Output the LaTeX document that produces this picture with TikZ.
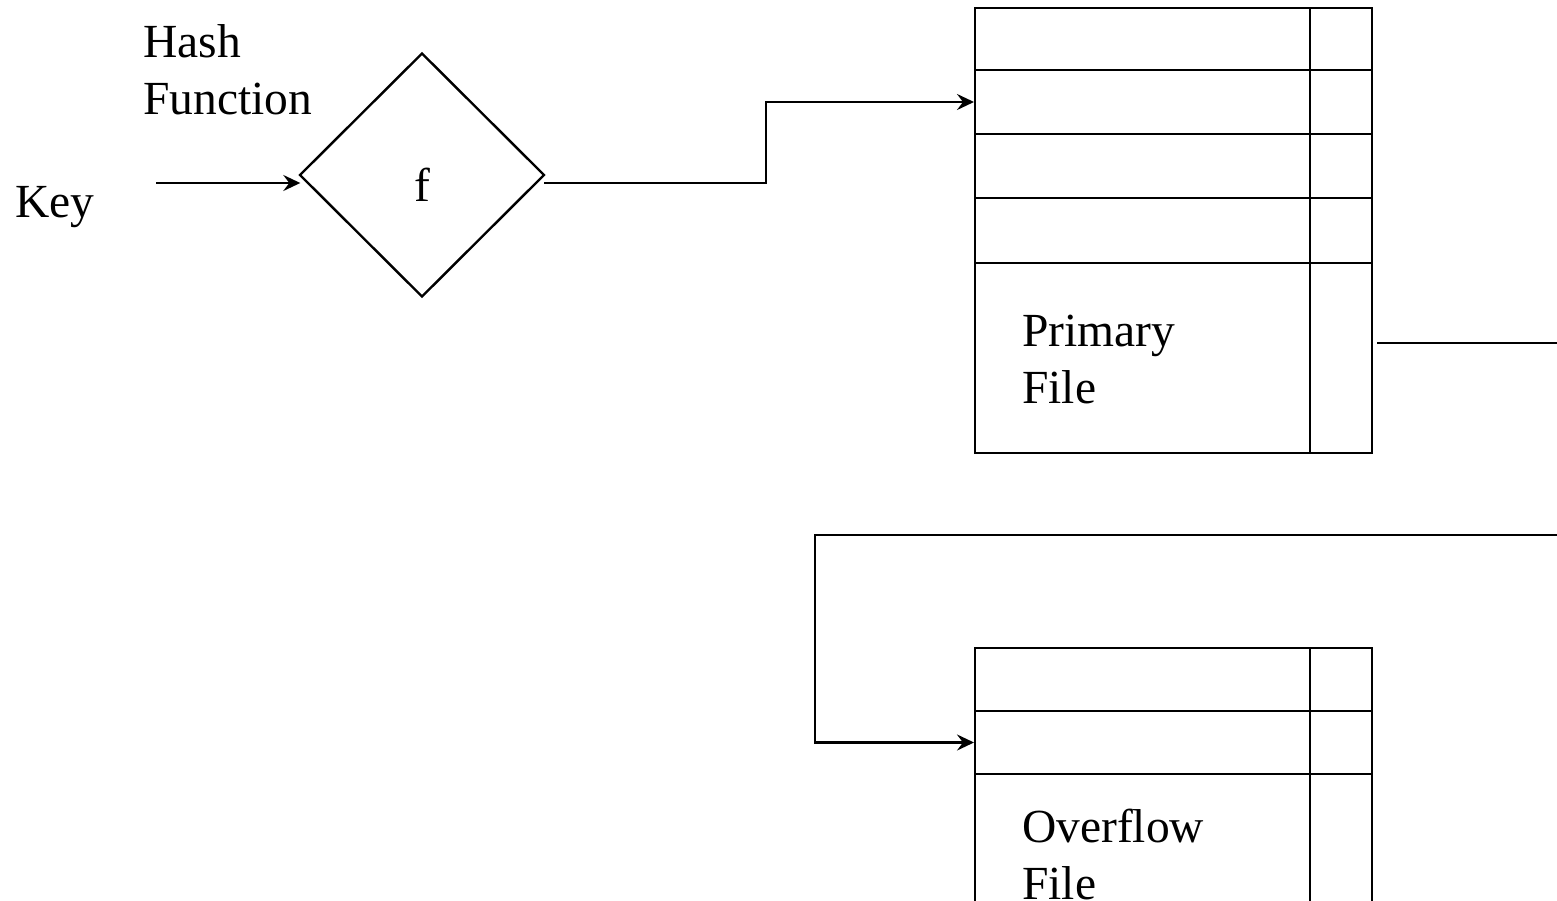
\documentclass[tikz,border=0pt]{standalone}
\usepackage{fontspec}
\setmainfont{Liberation Serif}
\usetikzlibrary{arrows.meta,shapes.geometric}
\tikzset{
  wire/.style={line width=2.6pt, line cap=rect},
  tip/.style={wire, -{Stealth[length=17pt,width=16pt,inset=6pt]}},
  frame/.style={draw, line width=2.8pt, rectangle, inner sep=0pt},
  cell/.style={line width=2.3pt},
  txt/.style={anchor=base west, inner sep=0pt, font=\fontsize{47.5}{57}\selectfont},
}
\begin{document}
\begin{tikzpicture}[x=1pt,y=-1pt]
\clip (0,0) rectangle (1557,901);
\fill[white] (0,0) rectangle (1557,901);

% hash function
\node[txt] (hash1) at (143,58) {Hash};
\node[txt] (hash2) at (143,115) {Function};
\node[txt] (key) at (15,218) {Key};
\node[diamond, draw, line width=2.4pt, minimum width=245pt, minimum height=244pt, inner sep=0pt] (fn) at (422,175) {};
\node[txt, anchor=base] (f) at (422,202) {f};

% primary file
\node[frame, minimum width=397pt, minimum height=445pt] (pf) at (1173.5,230.5) {};
\foreach \y in {70,134,198,263} \draw[cell] (975,\y) -- (1372,\y);
\draw[cell] (1310,8) -- (1310,453);
\node[txt] (pt1) at (1022,346) {Primary};
\node[txt] (pt2) at (1022,403) {File};

% overflow file
\node[frame, minimum width=397pt, minimum height=300pt] (of) at (1173.5,798) {};
\foreach \y in {711,774} \draw[cell] (975,\y) -- (1372,\y);
\draw[cell] (1310,648) -- (1310,948);
\node[txt] (ot1) at (1022,842) {Overflow};
\node[txt] (ot2) at (1022,899) {File};

% connectors
\coordinate (kin) at (157,183);
\coordinate (bend) at (766,183);
\coordinate (prow) at (975,102);
\coordinate (pout) at (1378,343);
\coordinate (pend) at (1557,343);
\coordinate (oin) at (1557,535);
\coordinate (ocorner) at (815,535);
\coordinate (orow) at (975,742.5);

\draw[tip] (kin) -- ([xshift=2pt,yshift=-8pt]fn.west);
\draw[tip] ([yshift=-8pt]fn.east) -- (bend) |- ([xshift=-1pt]prow);
\draw[wire] (pout) -- (pend);
\draw[tip] (oin) -- (ocorner) |- ([xshift=-1pt]orow);
\end{tikzpicture}
\end{document}
